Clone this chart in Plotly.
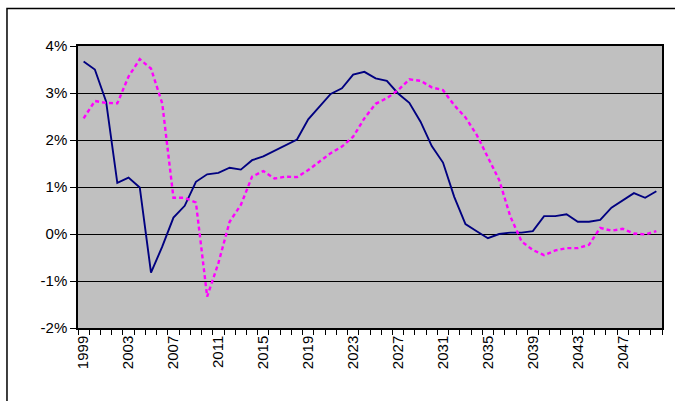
import plotly.graph_objects as go

years = list(range(1999, 2051))
series_a = [3.67, 3.50, 2.82, 1.09, 1.20, 0.99, -0.82, -0.27, 0.35, 0.60,
            1.11, 1.27, 1.30, 1.41, 1.37, 1.57, 1.65, 1.77, 1.88, 2.01,
            2.44, 2.72, 2.98, 3.10, 3.39, 3.45, 3.31, 3.26, 2.99, 2.79,
            2.39, 1.87, 1.52, 0.79, 0.21, 0.06, -0.09, 0.00, 0.03, 0.03,
            0.06, 0.38, 0.38, 0.42, 0.26, 0.26, 0.30, 0.56, 0.72, 0.87,
            0.77, 0.91]
series_b = [2.46, 2.83, 2.79, 2.78, 3.35, 3.72, 3.52, 2.78, 0.77, 0.77,
            0.67, -1.33, -0.62, 0.26, 0.62, 1.22, 1.34, 1.18, 1.22, 1.21,
            1.36, 1.54, 1.72, 1.86, 2.07, 2.46, 2.77, 2.89, 3.06, 3.29,
            3.26, 3.12, 3.06, 2.74, 2.48, 2.11, 1.63, 1.15, 0.37, -0.16,
            -0.34, -0.45, -0.35, -0.30, -0.30, -0.23, 0.13, 0.07, 0.11, 0.01,
            -0.01, 0.06]
x_tick_labels = [str(y) for y in range(1999, 2051, 4)]
y_tick_vals = [-2, -1, 0, 1, 2, 3, 4]
y_tick_text = ["-2%", "-1%", "0%", "1%", "2%", "3%", "4%"]

fig = go.Figure()
fig.add_trace(go.Scatter(x=years, y=series_a, mode="lines",
                         line=dict(color="#000080", width=1.9)))
fig.add_trace(go.Scatter(x=years, y=series_b, mode="lines",
                         line=dict(color="#FF00FF", width=2.4, dash="4px,3px")))

fig.update_layout(
    width=675, height=401,
    margin=dict(l=78, r=13, t=46, b=73, autoexpand=False),
    paper_bgcolor="white",
    plot_bgcolor="#C0C0C0",
    showlegend=False,
    font=dict(family="Liberation Sans, Arial, sans-serif", size=15, color="black"),
    xaxis=dict(
        range=[1998.5, 2050.5],
        tickmode="array",
        tickvals=[int(t) for t in x_tick_labels],
        ticktext=x_tick_labels,
        tickangle=-90,
        ticks="",
        showgrid=False,
        showline=True, linecolor="black", linewidth=1.5, mirror=True,
        zeroline=False,
        minor=dict(tickmode="linear", tick0=1998.5, dtick=1, ticks="outside",
                   ticklen=5, tickcolor="black", tickwidth=1, showgrid=False),
        tickfont=dict(size=15),
    ),
    yaxis=dict(
        range=[-2, 4],
        tickmode="array",
        tickvals=y_tick_vals,
        ticktext=y_tick_text,
        ticks="outside", ticklen=6, tickcolor="black",
        showgrid=True, gridcolor="black", gridwidth=1,
        showline=True, linecolor="black", linewidth=1.5, mirror=True,
        zeroline=False,
        tickfont=dict(size=15),
    ),
    shapes=[dict(type="rect", xref="paper", yref="paper",
                 x0=-0.1216, y0=-0.5, x1=1.2, y1=1.133,
                 line=dict(color="black", width=1.5), fillcolor="rgba(0,0,0,0)",
                 layer="below")],
)

fig.write_html("out.html", config={"displayModeBar": False},
               post_script="document.body.style.margin='0px';")
